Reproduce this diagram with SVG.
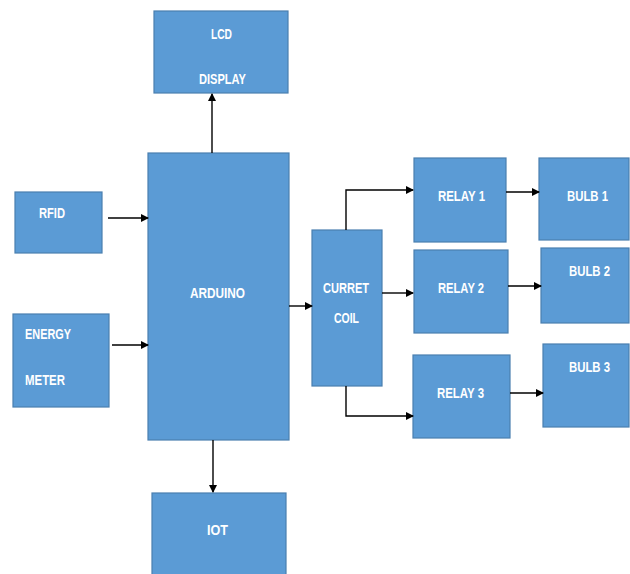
<svg xmlns="http://www.w3.org/2000/svg" width="630" height="574" viewBox="0 0 630 574">
<defs>
<marker id="ah" markerWidth="8" markerHeight="8" refX="7" refY="4" orient="auto" markerUnits="userSpaceOnUse">
<path d="M0,0 L8,4 L0,8 Z" fill="#000"/>
</marker>
<style>
.box{fill:#5B9BD5;stroke:#4A7FB0;stroke-width:1.2}
.t{font-family:"Liberation Sans",Arial,sans-serif;font-weight:bold;font-size:15px;fill:#fff}
.c{fill:none;stroke:#000;stroke-width:1.4}
.a{fill:none;stroke:#000;stroke-width:1.4;marker-end:url(#ah)}
</style>
</defs>
<rect width="630" height="574" fill="#fff"/>
<g id="lcd"><rect class="box" x="154" y="11" width="134" height="82"/>
<text class="t" x="211" y="38.5" textLength="21" lengthAdjust="spacingAndGlyphs">LCD</text>
<text class="t" x="199" y="83.5" textLength="47" lengthAdjust="spacingAndGlyphs">DISPLAY</text></g>
<g id="arduino"><rect class="box" x="148" y="153" width="141" height="287"/>
<text class="t" x="190" y="297.5" textLength="55" lengthAdjust="spacingAndGlyphs">ARDUINO</text></g>
<g id="rfid"><rect class="box" x="15" y="192" width="87" height="61"/>
<text class="t" x="39" y="217.5" textLength="26" lengthAdjust="spacingAndGlyphs">RFID</text></g>
<g id="energy"><rect class="box" x="13" y="314" width="96" height="93"/>
<text class="t" x="25" y="338.5" textLength="46" lengthAdjust="spacingAndGlyphs">ENERGY</text>
<text class="t" x="25" y="384.5" textLength="40" lengthAdjust="spacingAndGlyphs">METER</text></g>
<g id="coil"><rect class="box" x="312" y="230" width="70" height="156"/>
<text class="t" x="323" y="292.5" textLength="46" lengthAdjust="spacingAndGlyphs">CURRET</text>
<text class="t" x="334" y="322.5" textLength="25" lengthAdjust="spacingAndGlyphs">COIL</text></g>
<g id="relay1"><rect class="box" x="414" y="158" width="92" height="84"/>
<text class="t" x="438" y="200.5" textLength="47" lengthAdjust="spacingAndGlyphs">RELAY 1</text></g>
<g id="relay2"><rect class="box" x="414" y="250" width="94" height="83"/>
<text class="t" x="438" y="292.5" textLength="46" lengthAdjust="spacingAndGlyphs">RELAY 2</text></g>
<g id="relay3"><rect class="box" x="413" y="355" width="97" height="83"/>
<text class="t" x="437" y="397.5" textLength="47" lengthAdjust="spacingAndGlyphs">RELAY 3</text></g>
<g id="bulb1"><rect class="box" x="539" y="158" width="90" height="82"/>
<text class="t" x="567" y="200.5" textLength="41" lengthAdjust="spacingAndGlyphs">BULB 1</text></g>
<g id="bulb2"><rect class="box" x="541" y="248" width="88" height="75"/>
<text class="t" x="569" y="275.5" textLength="41" lengthAdjust="spacingAndGlyphs">BULB 2</text></g>
<g id="bulb3"><rect class="box" x="543" y="344" width="86" height="83"/>
<text class="t" x="569" y="371.5" textLength="41" lengthAdjust="spacingAndGlyphs">BULB 3</text></g>
<g id="iot"><rect class="box" x="152" y="493" width="134" height="85"/>
<text class="t" x="207" y="534.5" textLength="21" lengthAdjust="spacingAndGlyphs">IOT</text></g>
<g id="connectors">
<line class="a" x1="212" y1="153" x2="212" y2="94"/>
<line class="a" x1="108" y1="218" x2="148" y2="218"/>
<line class="a" x1="112" y1="345" x2="148" y2="345"/>
<line class="a" x1="289" y1="306" x2="312" y2="306"/>
<line class="a" x1="213" y1="440" x2="213" y2="492"/>
<polyline class="a" points="346,230 346,190 413,190"/>
<line class="a" x1="382" y1="293" x2="413" y2="293"/>
<polyline class="a" points="346,386 346,416 413,416"/>
<line class="a" x1="506" y1="192" x2="539" y2="192"/>
<line class="a" x1="508" y1="286" x2="541" y2="286"/>
<line class="a" x1="510" y1="393" x2="543" y2="393"/>
</g>
</svg>
